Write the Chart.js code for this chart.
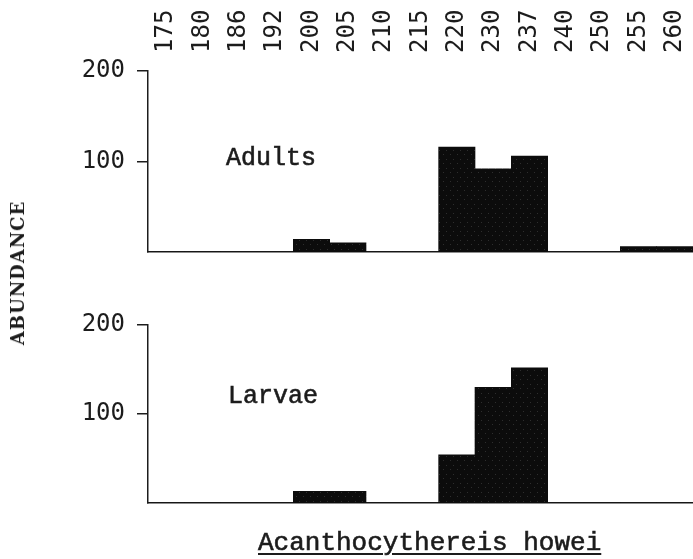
<!DOCTYPE html>
<html>
<head>
<meta charset="utf-8">
<title>Acanthocythereis howei</title>
<script src="https://cdn.jsdelivr.net/npm/chart.js@4.4.1/dist/chart.umd.min.js"></script>
<style>
  html, body { margin: 0; padding: 0; background: #fff; }
  #wrap { position: relative; width: 693px; height: 559px; overflow: hidden; }
  #wrap canvas { position: absolute; left: 0; top: 0; }
  .type {
    position: absolute; font-family: "Liberation Mono", monospace; color: #1c1c1c;
    white-space: nowrap; line-height: 1; -webkit-text-stroke: 0.6px #1c1c1c;
  }
  .panel { font-size: 25px; }
  #species { font-size: 26px; left: 258px; top: 530px; text-decoration: underline; text-decoration-thickness: 2px; text-underline-offset: 3px; }
  #yTitle {
    position: absolute; left: 18px; top: 273px;
    transform: translate(-50%, -50%) rotate(-90deg);
    font-family: "DejaVu Serif", serif; font-weight: bold; font-size: 18px;
    letter-spacing: 1px; color: #1c1c1c; white-space: nowrap; line-height: 1;
  }
</style>
</head>
<body>
<div id="wrap">
  <canvas id="adultsChart" width="693" height="559"></canvas>
  <canvas id="larvaeChart" width="693" height="559"></canvas>
  <div id="yTitle">ABUNDANCE</div>
  <div class="type panel" style="left:226px; top:146px;">Adults</div>
  <div class="type panel" style="left:228px; top:384px;">Larvae</div>
  <div class="type" id="species">Acanthocythereis howei</div>
</div>
<script>
// size classes along the top, abundance per class for each stage
const sizeClasses = ['175', '180', '186', '192', '200', '205', '210', '215', '220', '230', '237', '240', '250', '255', '260'];
const adults = [0, 0, 0, 0, 14, 10, 0, 0, 116, 92, 106, 0, 0, 6, 6];
const larvae = [0, 0, 0, 0, 13, 13, 0, 0, 54, 130, 152, 0, 0, 0, 0];
const yTicks = [100, 200];

const ink = '#1c1c1c';
const tickFont = { family: 'DejaVu Sans Mono', size: 24, lineHeight: 1 };

// dark fill with a few light specks, like inked blocks
function inkPattern() {
    const c = document.createElement('canvas');
    c.width = 7;
    c.height = 9;
    const g = c.getContext('2d');
    g.fillStyle = '#0c0c0c';
    g.fillRect(0, 0, 7, 9);
    g.fillStyle = '#2e2e2e';
    g.fillRect(2, 1, 1, 1);
    g.fillRect(5, 6, 1, 1);
    return g.createPattern(c, 'repeat');
}

// one histogram panel; both canvases overlap, the layout sizes place each plot area
function panel(id, values, opts) {
    const scales = {
        x: {
            type: 'category',
            offset: true,
            grid: { display: false },
            ticks: { display: false },
            border: { display: true, color: ink, width: 1.5 },
            afterFit: (s) => { s.height = opts.below; },
        },
        y: {
            min: 0,
            max: 200,
            afterBuildTicks: (s) => { s.ticks = yTicks.map((v) => ({ value: v })); },
            afterFit: (s) => { s.width = 148; },
            grid: { drawOnChartArea: false, drawTicks: true, tickLength: 11, color: ink, lineWidth: 1.5 },
            border: { display: true, color: ink, width: 1.5 },
            ticks: { font: tickFont, color: ink, padding: 12 },
        },
    };
    if (opts.header) {
        // rotated labels on a top axis sit one line height left of their tick; labelOffset puts them back
        scales.xTop = {
            type: 'category',
            axis: 'x',
            position: 'top',
            offset: true,
            grid: { display: false },
            border: { display: false },
            ticks: {
                font: tickFont,
                color: ink,
                minRotation: 90,
                maxRotation: 90,
                autoSkip: false,
                padding: 10,
                labelOffset: tickFont.size * tickFont.lineHeight,
            },
            afterFit: (s) => { s.height = opts.above; },
        };
    }
    return new Chart(document.getElementById(id), {
        type: 'bar',
        data: {
            labels: sizeClasses,
            datasets: [{
                data: values,
                backgroundColor: inkPattern(),
                borderWidth: 0,
                barPercentage: 1,
                categoryPercentage: 1,
            }],
        },
        options: {
            responsive: false,
            animation: false,
            layout: { padding: { top: opts.header ? 0 : opts.above, left: 0, right: 0, bottom: 0 } },
            plugins: { legend: { display: false }, tooltip: { enabled: false } },
            scales,
        },
    });
}

panel('adultsChart', adults, { header: true, above: 71, below: 559 - 252 });
panel('larvaeChart', larvae, { header: false, above: 325, below: 559 - 503 });
</script>
</body>
</html>
